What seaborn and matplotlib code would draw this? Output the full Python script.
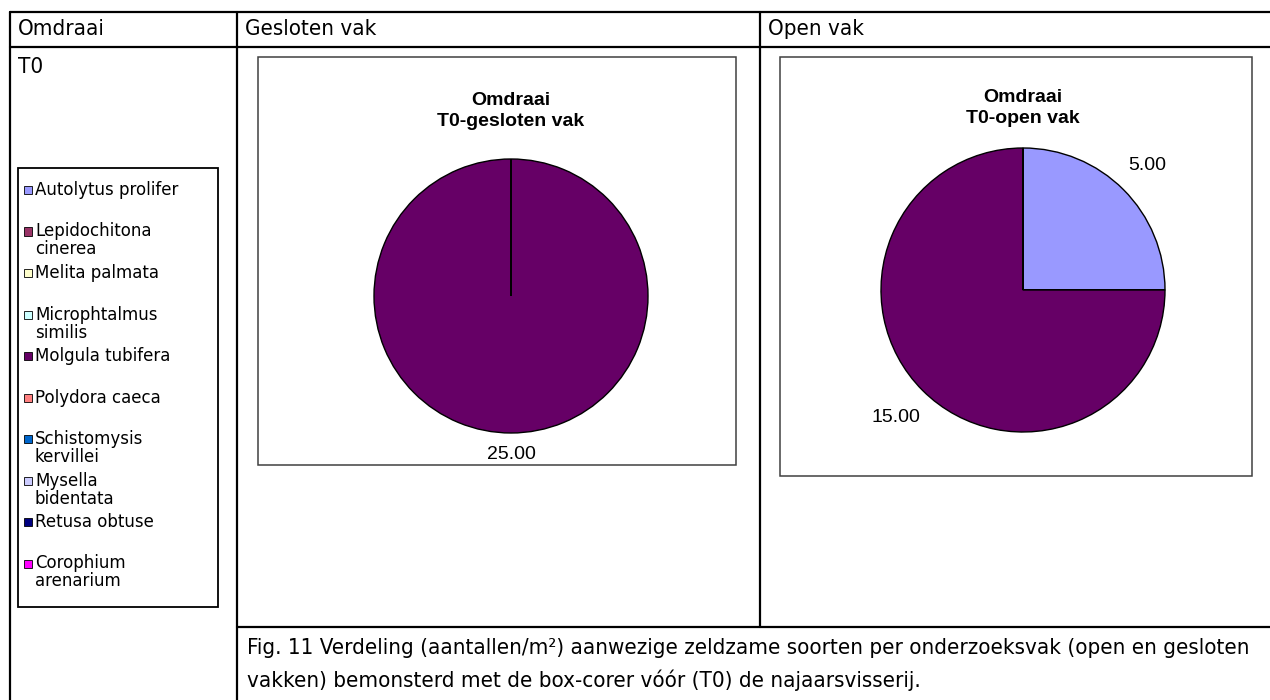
import matplotlib
matplotlib.use("Agg")
import matplotlib.pyplot as plt
import seaborn as sns
from matplotlib.patches import Rectangle
from matplotlib.lines import Line2D
from matplotlib import font_manager
import numpy as np

sns.set_style("white")
plt.rcParams["font.family"] = ["Liberation Sans", "DejaVu Sans"]
plt.rcParams["text.color"] = "black"

# species shown in the legend, in chart order
species = [
    "Autolytus prolifer",
    "Lepidochitona\ncinerea",
    "Melita palmata",
    "Microphtalmus\nsimilis",
    "Molgula tubifera",
    "Polydora caeca",
    "Schistomysis\nkervillei",
    "Mysella\nbidentata",
    "Retusa obtuse",
    "Corophium\narenarium",
]
species_colors = [
    "#9999FF", "#993366", "#FFFFCC", "#CCFFFF", "#660066",
    "#FF8080", "#0066CC", "#CCCCFF", "#000080", "#FF00FF",
]

# aantallen/m2 per vak
gesloten_values = [0, 0, 0, 0, 25, 0, 0, 0, 0, 0]
open_values = [5, 0, 0, 0, 15, 0, 0, 0, 0, 0]

header_labels = ["Omdraai", "Gesloten vak", "Open vak"]
row_label = "T0"
chart_titles = ["Omdraai\nT0-gesloten vak", "Omdraai\nT0-open vak"]
caption_lines = [
    "Fig. 11 Verdeling (aantallen/m\u00b2) aanwezige zeldzame soorten per onderzoeksvak (open en gesloten",
    "vakken) bemonsterd met de box-corer vóór (T0) de najaarsvisserij.",
]

W, H = 1270, 700
fig = plt.figure(figsize=(W / 100, H / 100), dpi=100)
fig.patch.set_facecolor("white")
palette = sns.color_palette(species_colors)

# condensed face for the table text, if the system has it
cond = font_manager.FontProperties(family="DejaVu Sans", stretch="condensed")
has_cond = "Condensed" in font_manager.findfont(cond, fallback_to_default=True)
table_font = dict(family=["DejaVu Sans"], fontstretch="condensed" if has_cond else "normal",
                  fontsize=16 if has_cond else 14.5)


def fx(x):
    return x / W


def fy(y):
    return 1 - y / H


def hline(y, x0, x1, lw=1.6, color="black"):
    fig.add_artist(Line2D([fx(x0), fx(x1)], [fy(y), fy(y)], lw=lw, color=color))


def vline(x, y0, y1, lw=1.6, color="black"):
    fig.add_artist(Line2D([fx(x), fx(x)], [fy(y0), fy(y1)], lw=lw, color=color))


def box(x0, y0, x1, y1, color="#404040", lw=1.1):
    fig.add_artist(Rectangle((fx(x0), fy(y1)), fx(x1) - fx(x0), fy(y0) - fy(y1),
                             fill=False, edgecolor=color, lw=lw))


# table grid
hline(12, 10, 1270)
hline(47, 10, 1270)
hline(627, 237, 1270)
vline(10, 12, 700)
vline(237, 12, 700)
vline(760, 12, 627)

for x, t in zip([18, 245, 768], header_labels):
    fig.text(fx(x), fy(29), t, va="center", ha="left", **table_font)
fig.text(fx(18), fy(67), row_label, va="center", ha="left", **table_font)
for i, line in enumerate(caption_lines):
    fig.text(fx(247), fy(648 + i * 32), line, va="center", ha="left", **table_font)

# legend box
box(18, 168, 218, 607, color="black", lw=1.3)
for i, (name, col) in enumerate(zip(species, palette)):
    y = 190 + i * 41.5
    fig.add_artist(Rectangle((fx(24), fy(y + 4)), fx(8), 8 / H, facecolor=col,
                             edgecolor="black", lw=0.6))
    fig.text(fx(35), fy(y - 9), name, fontsize=12, va="top", ha="left",
             linespacing=1.0, family=["DejaVu Sans"])


def draw_pie(values, cx, cy, r, title, title_y, frame):
    box(*frame)
    ax = fig.add_axes([fx(cx - r), fy(cy + r), 2 * r / W, 2 * r / H])
    wedges, _ = ax.pie(values, colors=palette, startangle=90, counterclock=False,
                       radius=1, wedgeprops=dict(edgecolor="black", linewidth=1.0))
    ax.set_xlim(-1, 1)
    ax.set_ylim(-1, 1)
    ax.axis("off")
    fs = 14
    px = fs * 100 / 72
    for w, v in zip(wedges, values):
        if v <= 0:
            continue
        label = f"{v:.2f}"
        ang = np.deg2rad((w.theta1 + w.theta2) / 2)
        c, s = np.cos(ang), np.sin(ang)
        half_w = len(label) * 0.55 * px / 2
        half_h = px * 0.5
        ext = abs(c) * half_w + abs(s) * half_h
        rr = 1 + (12 + ext) / r
        ax.text(rr * c, rr * s, label, ha="center", va="center", fontsize=fs,
                clip_on=False)
    fig.text(fx(cx), fy(title_y), title, ha="center", va="center", fontsize=14,
             fontweight="bold", linespacing=1.25)


draw_pie(gesloten_values, 511, 296, 137, chart_titles[0], 111, (258, 57, 736, 465))
draw_pie(open_values, 1023, 290, 142, chart_titles[1], 108, (780, 57, 1252, 476))

fig.savefig("out.png", dpi=100)
